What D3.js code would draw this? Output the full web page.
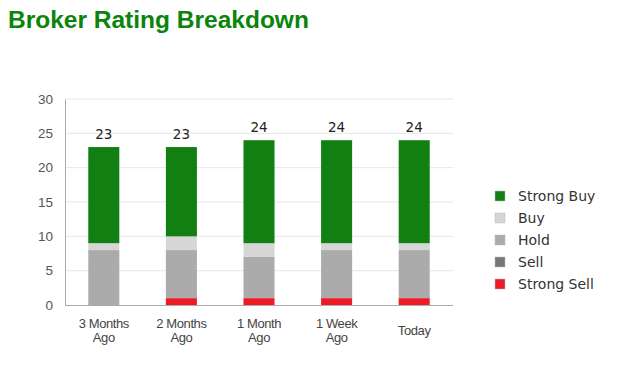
<!DOCTYPE html>
<html><head><meta charset="utf-8">
<script src="https://cdn.jsdelivr.net/npm/d3@7"></script>
<style>body{margin:0;background:#fff;}svg{display:block;}</style>
</head><body>
<svg id="chart" width="620" height="370"></svg>
<script>
const categories = [["3 Months","Ago"],["2 Months","Ago"],["1 Month","Ago"],["1 Week","Ago"],["Today"]];
const seriesNames = ["Strong Sell","Sell","Hold","Buy","Strong Buy"];
const strongSell = [0,1,1,1,1];
const sell = [0,0,0,0,0];
const hold = [8,7,6,7,7];
const buy = [1,2,2,1,1];
const strongBuy = [14,13,15,15,15];
const yTicks = [0,5,10,15,20,25,30];
const colors = {"Strong Buy":"#127f12","Buy":"#d6d6d6","Hold":"#ababab","Sell":"#777777","Strong Sell":"#ee1b24"};

const svg = d3.select("#chart");
svg.append("text").attr("x",8).attr("y",28).text("Broker Rating Breakdown")
  .attr("font-family","Liberation Sans, Arial, sans-serif").attr("font-weight","bold")
  .attr("font-size",24.5).attr("fill","#0b840b");

const m = {l:65, r:453, t:99, b:305};
const keys = categories.map((c,i)=>i);
const x = d3.scaleBand().domain(keys).range([m.l,m.r]).paddingInner(0.6).paddingOuter(0.3);
const y = d3.scaleLinear().domain([0,30]).range([m.b,m.t]);

const rows = keys.map(i=>({i, "Strong Sell":strongSell[i], "Sell":sell[i], "Hold":hold[i], "Buy":buy[i], "Strong Buy":strongBuy[i]}));
const stack = d3.stack().keys(seriesNames)(rows);

// grid
svg.append("g").selectAll("line").data(yTicks.filter(t=>t>0)).join("line")
  .attr("x1",m.l).attr("x2",m.r).attr("y1",d=>y(d)).attr("y2",d=>y(d))
  .attr("stroke","#e6e6e6").attr("stroke-width",1);

// y axis
const ya = svg.append("g").attr("transform",`translate(${m.l},0)`)
  .call(d3.axisLeft(y).tickValues(yTicks).tickSize(0).tickPadding(12));
ya.select(".domain").attr("stroke","#aaaaaa");
ya.selectAll("text").attr("font-family","Liberation Sans, Arial, sans-serif").attr("font-size",13.5).attr("fill","#555");

// bars
svg.append("g").selectAll("g").data(stack).join("g").attr("fill",d=>colors[d.key])
  .selectAll("rect").data(d=>d).join("rect")
  .attr("x",d=>x(d.data.i)).attr("width",x.bandwidth())
  .attr("y",d=>y(d[1])).attr("height",d=>y(d[0])-y(d[1]));

// x axis
svg.append("line").attr("x1",m.l).attr("x2",m.r).attr("y1",m.b+0.5).attr("y2",m.b+0.5).attr("stroke","#aaaaaa");

// totals
svg.append("g").selectAll("text").data(rows).join("text")
  .attr("x",d=>x(d.i)+x.bandwidth()/2)
  .attr("y",d=>y(strongSell[d.i]+sell[d.i]+hold[d.i]+buy[d.i]+strongBuy[d.i])-8)
  .attr("text-anchor","middle").attr("font-family","DejaVu Sans, sans-serif").attr("font-size",13.5).attr("fill","#222")
  .text(d=>strongSell[d.i]+sell[d.i]+hold[d.i]+buy[d.i]+strongBuy[d.i]);

// x labels
const xl = svg.append("g").selectAll("text").data(keys).join("text")
  .attr("text-anchor","middle").attr("font-family","Liberation Sans, Arial, sans-serif").attr("font-size",13).attr("fill","#444")
  .attr("letter-spacing","-0.4")
  .attr("transform",i=>`translate(${x(i)+x.bandwidth()/2},${categories[i].length>1?328:335})`);
xl.selectAll("tspan").data(i=>categories[i]).join("tspan").attr("x",0).attr("dy",(d,j)=>j?"1.05em":0).text(d=>d);

// legend
const legOrder = ["Strong Buy","Buy","Hold","Sell","Strong Sell"];
const lg = svg.append("g").selectAll("g").data(legOrder).join("g")
  .attr("transform",(d,i)=>`translate(495,${196+i*22})`);
lg.append("rect").attr("x",0).attr("y",-5).attr("width",10).attr("height",10).attr("fill",d=>colors[d])
  .attr("stroke","#bbb").attr("stroke-width",0.5);
lg.append("text").attr("x",23).attr("y",5).text(d=>d)
  .attr("font-family","DejaVu Sans, sans-serif").attr("font-size",14).attr("fill","#333");
</script>
</body></html>
